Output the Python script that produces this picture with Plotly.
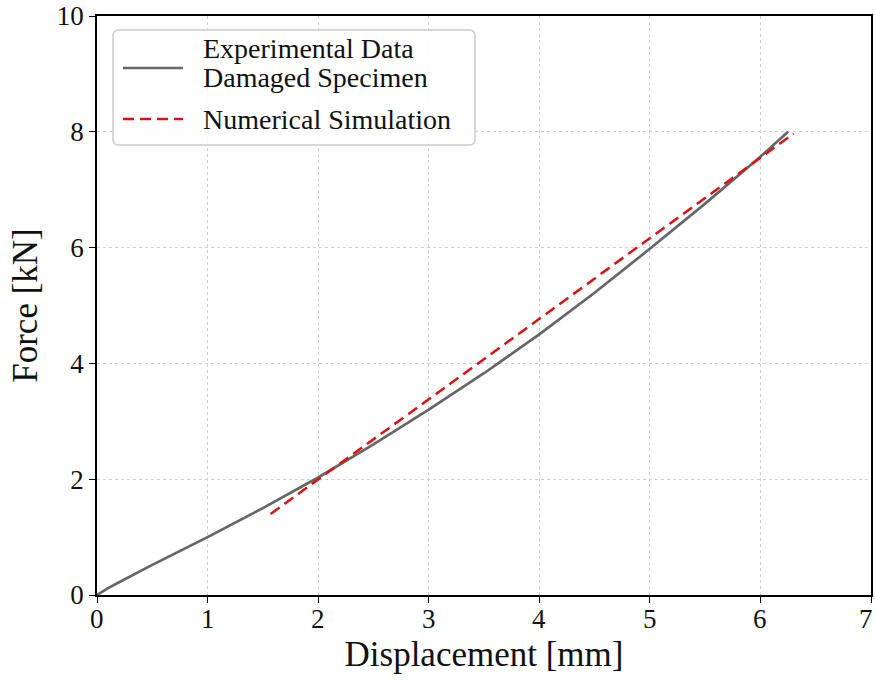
import plotly.graph_objects as go

# Experimental data (damaged specimen)
exp_x = [0.0, 0.1, 0.2, 0.5, 1.0, 1.5, 2.0, 2.5, 3.0, 3.5, 4.0, 4.5, 5.0, 5.5, 6.0, 6.25]
exp_y = [0.0, 0.12, 0.22, 0.52, 1.0, 1.5, 2.03, 2.6, 3.2, 3.83, 4.5, 5.22, 5.98, 6.76, 7.57, 8.0]

# Numerical simulation
num_x = [1.57, 2.0, 3.0, 4.0, 5.0, 6.0, 6.3]
num_y = [1.40, 2.0, 3.38, 4.77, 6.16, 7.55, 7.97]

x_ticks = [0, 1, 2, 3, 4, 5, 6, 7]
x_tick_labels = ["0", "1", "2", "3", "4", "5", "6", "7"]
y_ticks = [0, 2, 4, 6, 8, 10]

legend_lines = [["Experimental Data", "Damaged Specimen"], ["Numerical Simulation"]]

FONT = "'Liberation Serif', 'DejaVu Serif', serif"
GRAY = "#666666"
RED = "#dd1111"
DASH = "11px,6px"
TICK_SIZE = 27

fig = go.Figure()
fig.add_trace(go.Scatter(x=exp_x, y=exp_y, mode="lines", name="<br>".join(legend_lines[0]),
                         line=dict(color=GRAY, width=2.7), showlegend=False))
fig.add_trace(go.Scatter(x=num_x, y=num_y, mode="lines", name=legend_lines[1][0],
                         line=dict(color=RED, width=2.5, dash=DASH), showlegend=False))

axis_common = dict(showline=True, linecolor="black", linewidth=1.5, mirror=True,
                   ticks="outside", ticklen=6, tickwidth=1.2, tickcolor="black",
                   showgrid=True, gridcolor="#d0d0d0", griddash="dot", gridwidth=1,
                   zeroline=False, automargin=False,
                   tickfont=dict(family=FONT, size=TICK_SIZE, color="#111111"))

# plot area in pixels: left 97, right 871, top 16, bottom 595
L, R, T, B = 97, 871, 16, 595
def px(xp):
    return (xp - L) / (R - L)
def py(yp):
    return (B - yp) / (B - T)

# manual legend box with rounded corners
x0, x1, y0, y1, r = px(113), px(475), py(145), py(30), 6
rx, ry = r / (R - L), r / (B - T)
path = (f"M{x0+rx},{y0} L{x1-rx},{y0} Q{x1},{y0} {x1},{y0+ry} "
        f"L{x1},{y1-ry} Q{x1},{y1} {x1-rx},{y1} L{x0+rx},{y1} Q{x0},{y1} {x0},{y1-ry} "
        f"L{x0},{y0+ry} Q{x0},{y0} {x0+rx},{y0} Z")
shapes = [
    dict(type="path", path=path, xref="paper", yref="paper",
         fillcolor="rgba(255,255,255,0.85)", line=dict(color="#cccccc", width=1.5), layer="above"),
    dict(type="line", xref="paper", yref="paper", x0=px(123), x1=px(183), y0=py(68), y1=py(68),
         line=dict(color=GRAY, width=2.7), layer="above"),
    dict(type="line", xref="paper", yref="paper", x0=px(123), x1=px(183), y0=py(119), y1=py(119),
         line=dict(color=RED, width=2.5, dash=DASH), layer="above"),
]
text_rows = [(legend_lines[0][0], 49), (legend_lines[0][1], 77), (legend_lines[1][0], 119)]
annotations = [
    dict(text=t, xref="paper", yref="paper", x=px(201), y=py(yc),
         xanchor="left", yanchor="middle", showarrow=False, align="left",
         font=dict(family=FONT, size=28, color="#111111"))
    for t, yc in text_rows
]
# x tick labels placed as annotations (last one kept inside the page edge)
for xv, lab in zip(x_ticks, x_tick_labels):
    if xv == x_ticks[-1]:
        annotations.append(dict(text=lab, xref="paper", yref="paper", x=px(875), y=py(619),
                                xanchor="right", yanchor="middle", showarrow=False,
                                font=dict(family=FONT, size=TICK_SIZE, color="#111111")))
    else:
        annotations.append(dict(text=lab, xref="x", yref="paper", x=xv, y=py(619),
                                xanchor="center", yanchor="middle", showarrow=False,
                                font=dict(family=FONT, size=TICK_SIZE, color="#111111")))

fig.update_layout(
    width=875, height=682,
    margin=dict(l=L, r=875 - R, t=T, b=682 - B),
    paper_bgcolor="white", plot_bgcolor="white",
    xaxis=dict(range=[0, 7], tickvals=x_ticks, showticklabels=False,
               title=dict(text="Displacement [mm]", font=dict(family=FONT, size=35, color="#111111"), standoff=40),
               **axis_common),
    yaxis=dict(range=[0, 10], tickvals=y_ticks,
               title=dict(text="Force [kN]", font=dict(family=FONT, size=35, color="#111111"), standoff=9),
               **axis_common),
    shapes=shapes,
    annotations=annotations,
    showlegend=False,
)

fig.write_html("out.html")
